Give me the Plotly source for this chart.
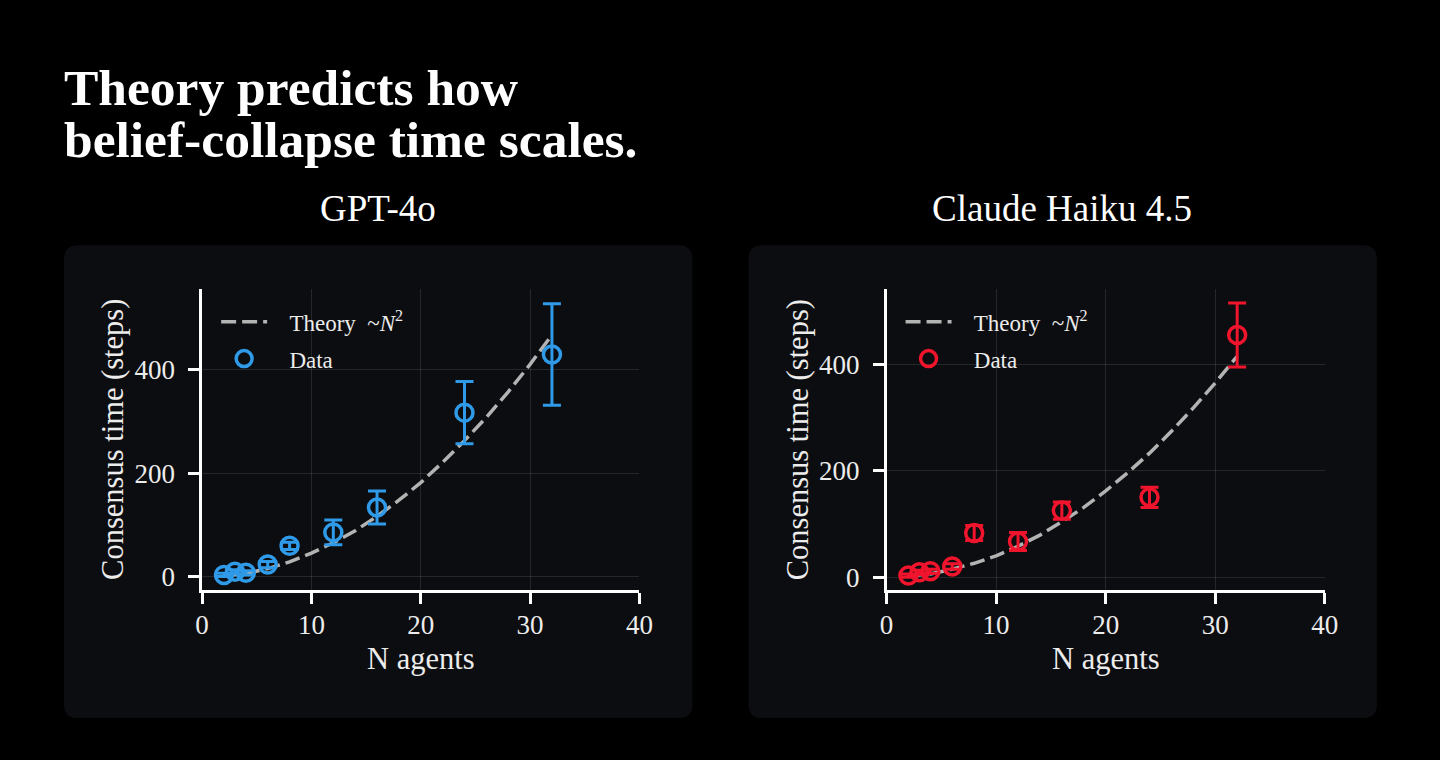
import plotly.graph_objects as go

# agent counts
n_agents = [2, 3, 4, 6, 8, 12, 16, 24, 32]

# GPT-4o consensus time (steps) and error
gpt_time = [4, 10, 8, 24, 60, 86, 134, 317, 429]
gpt_err = [3, 4, 4, 6, 7, 24, 32, 60, 98]

# Claude Haiku 4.5 consensus time (steps) and error
haiku_time = [3, 9, 11, 20, 83, 67, 125, 150, 455]
haiku_err = [3, 4, 4, 5, 14, 17, 16, 19, 60]

# theory curves
theory_n = [2, 4, 6, 8, 10, 12, 14, 16, 18, 20, 22, 24, 26, 28, 30, 32]
gpt_theory = [2, 7, 16, 29, 46, 66, 89, 117, 148, 182, 221, 263, 308, 357, 410, 467]
haiku_theory = [2, 6, 15, 26, 40, 58, 79, 104, 131, 162, 196, 233, 274, 318, 365, 415]

panel_titles = ["GPT-4o", "Claude Haiku 4.5"]
title_lines = ["Theory predicts how", "belief-collapse time scales."]

W, H = 1440, 760
SERIF = "Liberation Serif, Times New Roman, serif"
BLUE = "#2f9ae8"
RED = "#f0142d"
PANEL = "#0c0d10"
GRID = "rgba(255,255,255,0.11)"

# the page comes out slightly squeezed sideways, so map target pixels back
SX, OX = 0.9855, 7


def px(x):
    return (x - OX) / (SX * W)


def py(y):
    return 1 - y / H


fig = go.Figure()

panels = [
    dict(xa="x", ya="y", leg="legend", time=gpt_time, err=gpt_err,
         theory=gpt_theory, color=BLUE),
    dict(xa="x2", ya="y2", leg="legend2", time=haiku_time, err=haiku_err,
         theory=haiku_theory, color=RED),
]

pad = "&nbsp;" * 3
for p in panels:
    fig.add_trace(go.Scatter(
        x=theory_n, y=p["theory"], mode="lines",
        name=pad + "Theory  ~<i>N</i><sup>2</sup>",
        line=dict(color="#b3b3b3", width=3.5, dash="15px,6px"),
        xaxis=p["xa"], yaxis=p["ya"], legend=p["leg"],
        legendgroup="a", hoverinfo="skip"))
    fig.add_trace(go.Scatter(
        x=n_agents, y=p["time"], mode="markers", name=pad + "Data",
        marker=dict(symbol="circle-open", size=17, color=p["color"],
                    line=dict(width=3.5, color=p["color"])),
        error_y=dict(type="data", array=p["err"], visible=True,
                     color=p["color"], thickness=3, width=9),
        xaxis=p["xa"], yaxis=p["ya"], legend=p["leg"],
        legendgroup="b"))

axis_common = dict(
    showline=True, linecolor="white", linewidth=2.5,
    ticks="outside", ticklen=11, tickwidth=2.5, tickcolor="white",
    showgrid=True, gridcolor=GRID, gridwidth=1, zeroline=False,
    tickfont=dict(family=SERIF, size=27, color="#ececec"),
)

# plot areas in pixels: left 202-639, right 886-1324, y 290-592
fig.update_layout(
    xaxis=dict(domain=[px(202), px(639)], range=[0, 40], dtick=10,
               anchor="y", ticklabelstandoff=-3, **axis_common),
    yaxis=dict(domain=[py(592), py(290)], range=[-26, 555],
               tickvals=[0, 200, 400], anchor="x", ticklabelstandoff=8,
               **axis_common),
    xaxis2=dict(domain=[px(886), px(1324)], range=[0, 40], dtick=10,
                anchor="y2", ticklabelstandoff=-3, **axis_common),
    yaxis2=dict(domain=[py(592), py(290)], range=[-25, 541],
                tickvals=[0, 200, 400], anchor="x2", ticklabelstandoff=8,
                **axis_common),
)

legend_common = dict(
    bgcolor="rgba(0,0,0,0)", borderwidth=0,
    font=dict(family=SERIF, size=23, color="#ececec"),
    traceorder="grouped", tracegroupgap=4, itemwidth=46,
    xanchor="left", yanchor="top",
)
fig.update_layout(
    legend=dict(x=px(216), y=py(301), **legend_common),
    legend2=dict(x=px(900), y=py(301), **legend_common),
)

# rounded panel backgrounds
r = 14
for x0, x1 in [(64, 692), (748, 1376)]:
    y0, y1 = 246, 720
    X0, X1, Y0, Y1 = px(x0), px(x1), py(y0), py(y1)
    rx, ry = X0 - px(x0 - r), r / H
    path = (f"M{X0 + rx},{Y0} H{X1 - rx} Q{X1},{Y0} {X1},{Y0 - ry} "
            f"V{Y1 + ry} Q{X1},{Y1} {X1 - rx},{Y1} H{X0 + rx} "
            f"Q{X0},{Y1} {X0},{Y1 + ry} V{Y0 - ry} Q{X0},{Y0} {X0 + rx},{Y0} Z")
    fig.add_shape(type="path", path=path, xref="paper", yref="paper",
                  fillcolor=PANEL, line=dict(width=0), layer="below")

annotations = []
# main title, two lines
for text, y in zip(title_lines, [88, 140]):
    annotations.append(dict(
        text=f"<b>{text}</b>", x=px(62), y=py(y), xref="paper", yref="paper",
        xanchor="left", yanchor="middle", showarrow=False,
        font=dict(family=SERIF, size=51.5, color="white")))

# panel titles
for text, cx in zip(panel_titles, [378, 1061]):
    annotations.append(dict(
        text=text, x=px(cx), y=py(209), xref="paper", yref="paper",
        xanchor="center", yanchor="middle", showarrow=False,
        font=dict(family=SERIF, size=37, color="white")))

# axis titles
for cx in [113, 797]:
    annotations.append(dict(
        text="Consensus time (steps)", x=px(cx), y=py(441),
        xref="paper", yref="paper", textangle=-90,
        xanchor="center", yanchor="middle", showarrow=False,
        font=dict(family=SERIF, size=30.5, color="#ececec")))
for cx in [421, 1105]:
    annotations.append(dict(
        text="N agents", x=px(cx), y=py(661), xref="paper", yref="paper",
        xanchor="center", yanchor="middle", showarrow=False,
        font=dict(family=SERIF, size=30.5, color="#ececec")))

fig.update_layout(
    width=W, height=H,
    margin=dict(l=0, r=0, t=0, b=0),
    paper_bgcolor="black", plot_bgcolor=PANEL,
    showlegend=True,
    annotations=annotations,
)

fig.write_html("out.html", config={"displayModeBar": False},
               post_script="document.body.style.margin='0';"
                           "document.body.style.background='black';"
                           "document.body.style.overflow='hidden';"
                           "document.documentElement.style.overflow='hidden';")
